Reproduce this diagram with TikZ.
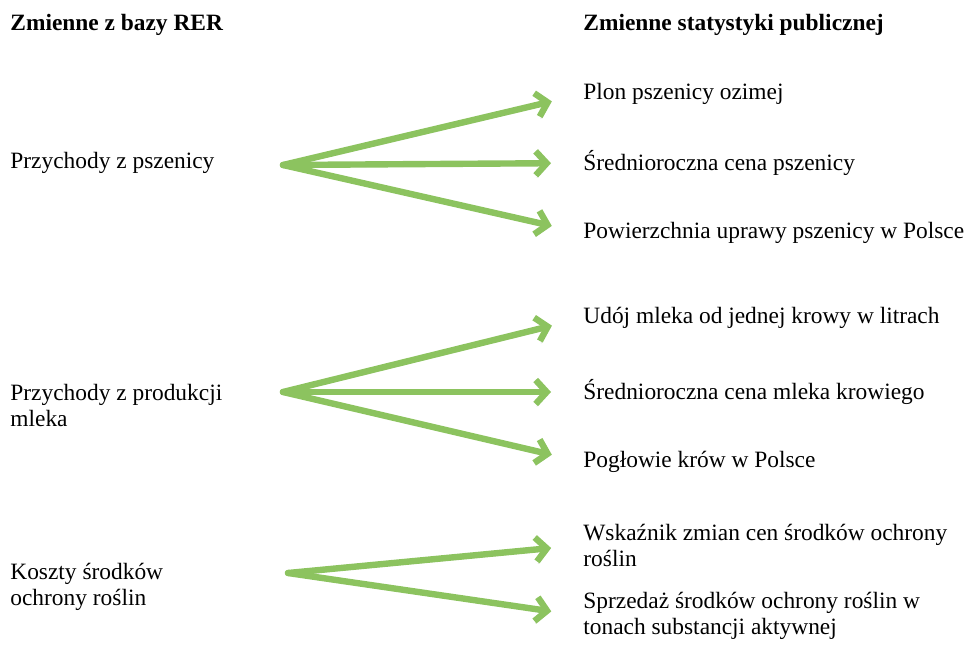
\documentclass[tikz,border=0pt]{standalone}
\usepackage{fontspec}
\setmainfont{Liberation Serif}
\usepackage{tikz}
\usetikzlibrary{arrows.meta,positioning}
\definecolor{arrowgreen}{HTML}{8CC35F}

\begin{document}
\begin{tikzpicture}[x=0.5pt,y=-0.5pt,>={Straight Barb[length=5.5pt,width=12pt]}]
\tikzstyle{lbl}=[anchor=west,inner sep=0pt,align=left,font=\fontsize{11.7}{13}\selectfont]
\tikzstyle{hdr}=[lbl,font=\fontsize{11.7}{13}\selectfont\bfseries]
\tikzstyle{link}=[->,draw=arrowgreen,line width=3.2pt,line cap=round,line join=round,shorten >=16pt,
  preaction={draw=black!35,opacity=0.3,transform canvas={shift={(0.5pt,-1.2pt)}}}]
\useasboundingbox (0,0) rectangle (969,647);
% headers
\node[hdr] (rerhead) at (10,25) {Zmienne z bazy RER};
\node[hdr] (pubhead) at (583,25) {Zmienne statystyki publicznej};
% left column
\node[lbl] (wheat) at (10,163) {Przychody z pszenicy};
\node[lbl] (milk) at (10,405) {Przychody z produkcji\\mleka};
\node[lbl] (plant) at (10,587) {Koszty środków\\ochrony roślin};
% right column
\node[lbl] (yield) at (583,94) {Plon pszenicy ozimej};
\node[lbl] (wprice) at (583,163) {Średnioroczna cena pszenicy};
\node[lbl] (area) at (583,233) {Powierzchnia uprawy pszenicy w Polsce};
\node[lbl] (udoj) at (583,318) {Udój mleka od jednej krowy w litrach};
\node[lbl] (mprice) at (583,392) {Średnioroczna cena mleka krowiego};
\node[lbl] (cows) at (583,462) {Pogłowie krów w Polsce};
\node[lbl] (pindex) at (583,545) {Wskaźnik zmian cen środków ochrony\\roślin};
\node[lbl] (psales) at (583,616) {Sprzedaż środków ochrony roślin w\\tonach substancji aktywnej};
% arrow origins
\coordinate (wheatfan) at (283,165);
\coordinate (milkfan) at (283,392);
\coordinate (plantfan) at (288,573);
\draw[link] (wheatfan) -- (yield.west);
\draw[link] (wheatfan) -- (wprice.west);
\draw[link] (wheatfan) -- (area.west);
\draw[link] (milkfan) -- (udoj.west);
\draw[link] (milkfan) -- (mprice.west);
\draw[link] (milkfan) -- (cows.west);
\draw[link] (plantfan) -- (pindex.west);
\draw[link] (plantfan) -- (psales.west);
\end{tikzpicture}
\end{document}
